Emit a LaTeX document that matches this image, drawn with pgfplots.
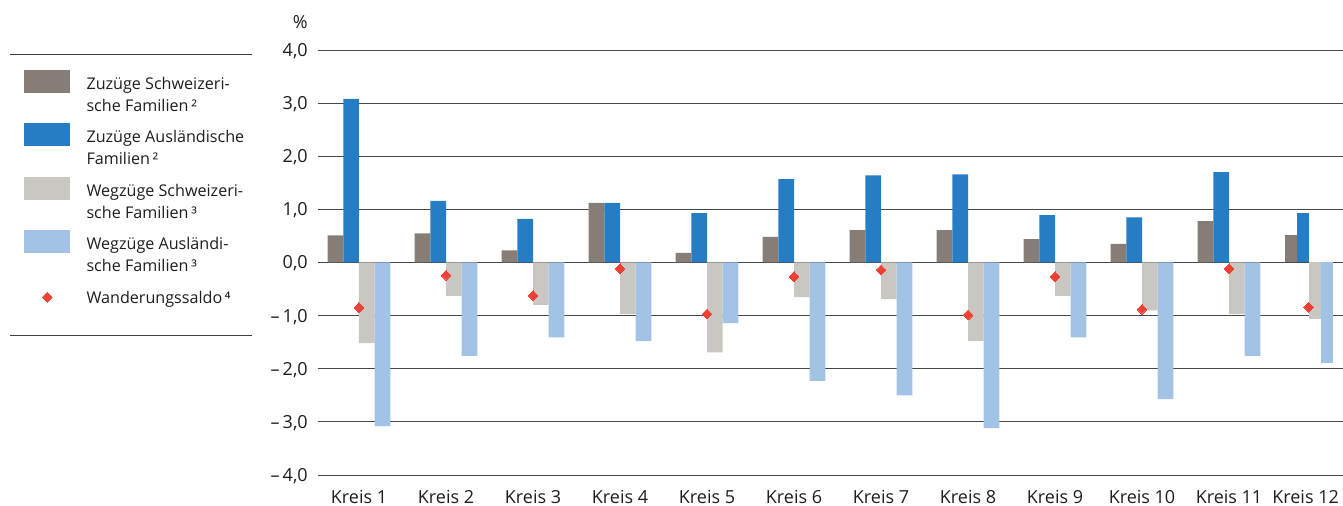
\documentclass[border=0pt]{standalone}
\usepackage{pgfplots}
\pgfplotsset{compat=1.18}
\usepackage{fontspec}
\setmainfont{Open Sans}
\definecolor{c1}{HTML}{877D77}
\definecolor{c2}{HTML}{267DC4}
\definecolor{c3}{HTML}{CAC7C2}
\definecolor{c4}{HTML}{A3C3E6}
\definecolor{cr}{HTML}{EE4035}
\definecolor{tx}{HTML}{1E1E1E}
\newcommand{\fs}{\fontsize{13.5pt}{16.5pt}\selectfont}
\newcommand{\fl}{\fontsize{12.1pt}{16.5pt}\selectfont}
\begin{document}
\fs
\begin{tikzpicture}
\begin{axis}[
  scale only axis, width=768.75pt, height=318.75pt,
  xmin=-0.4713, xmax=11.31, ymin=-4, ymax=4,
  axis line style={draw=none},
  ytick={-4,...,4},
  yticklabels={{–\,4,0},{–\,3,0},{–\,2,0},{–\,1,0},{0,0},{1,0},{2,0},{3,0},{4,0}},
  xtick={0,1,2,3,4,5,6,7,8,9,10,10.88},
  xticklabels={Kreis 1,Kreis 2,Kreis 3,Kreis 4,Kreis 5,Kreis 6,Kreis 7,Kreis 8,Kreis 9,Kreis 10,Kreis 11,Kreis 12},
  major tick length=0pt,
  ymajorgrids, major grid style={black!72, line width=0.7pt},
  tick label style={font=\fs, text=tx},
  xticklabel style={anchor=base, inner sep=0pt, yshift=-21.3pt},
  yticklabel style={anchor=base east, inner sep=0pt, xshift=-7.5pt, yshift=-4.8pt},
  legend cell align=left,
  legend style={at={(-0.2868,0.9529)}, anchor=north west, draw=none, fill=none,
    inner sep=0pt, outer sep=0pt, row sep=4.35pt, column sep=12pt,
    font=\fl, text=tx,
    nodes={inner sep=0pt, text depth=, text height=, align=left}},
]
% Kreis 1-11
\addplot[ybar, bar width=0.18, bar shift=-0.27, fill=c1, draw=none,
  legend image code/.code={\fill[c1] (0pt,2.0pt) rectangle (34.5pt,19.25pt);}]
  coordinates {(0,0.51) (1,0.55) (2,0.23) (3,1.12) (4,0.18) (5,0.48) (6,0.61) (7,0.61) (8,0.44) (9,0.35) (10,0.78)};
\addlegendentry{\strut Zuzüge Schweizeri-\\\strut sche Familien\,²}
\addplot[ybar, bar width=0.18, bar shift=-0.09, fill=c2, draw=none,
  legend image code/.code={\fill[c2] (0pt,2.0pt) rectangle (34.5pt,19.25pt);}]
  coordinates {(0,3.08) (1,1.16) (2,0.82) (3,1.12) (4,0.93) (5,1.57) (6,1.64) (7,1.66) (8,0.89) (9,0.85) (10,1.70)};
\addlegendentry{\strut Zuzüge Ausländische\\\strut Familien\,²}
\addplot[ybar, bar width=0.18, bar shift=0.09, fill=c3, draw=none,
  legend image code/.code={\fill[c3] (0pt,2.0pt) rectangle (34.5pt,19.25pt);}]
  coordinates {(0,-1.52) (1,-0.63) (2,-0.80) (3,-0.97) (4,-1.69) (5,-0.65) (6,-0.69) (7,-1.48) (8,-0.63) (9,-0.90) (10,-0.97)};
\addlegendentry{\strut Wegzüge Schweizeri-\\\strut sche Familien\,³}
\addplot[ybar, bar width=0.18, bar shift=0.27, fill=c4, draw=none,
  legend image code/.code={\fill[c4] (0pt,2.0pt) rectangle (34.5pt,19.25pt);}]
  coordinates {(0,-3.08) (1,-1.76) (2,-1.41) (3,-1.48) (4,-1.14) (5,-2.23) (6,-2.50) (7,-3.12) (8,-1.41) (9,-2.57) (10,-1.76)};
\addlegendentry{\strut Wegzüge Ausländi-\\\strut sche Familien\,³}
% Kreis 12 (narrower group at the right edge)
\addplot[forget plot, ybar, bar width=0.138, bar shift=-0.207, fill=c1, draw=none] coordinates {(10.914,0.51)};
\addplot[forget plot, ybar, bar width=0.138, bar shift=-0.069, fill=c2, draw=none] coordinates {(10.914,0.93)};
\addplot[forget plot, ybar, bar width=0.138, bar shift=0.069, fill=c3, draw=none] coordinates {(10.914,-1.07)};
\addplot[forget plot, ybar, bar width=0.138, bar shift=0.207, fill=c4, draw=none] coordinates {(10.914,-1.90)};
% Wanderungssaldo
\addplot[only marks, mark=square*, mark size=2.6pt, color=cr,
  mark options={rotate=45, fill=cr, draw=cr, line width=0pt},
  legend image code/.code={\path (0pt,0pt) (34.5pt,19.25pt);
    \fill[cr] (17.25pt,9.3pt) +(0pt,3.7pt) -- +(3.7pt,0pt) -- +(0pt,-3.7pt) -- +(-3.7pt,0pt) -- cycle;}]
  coordinates {(0,-0.85) (1,-0.24) (2,-0.62) (3,-0.12) (4,-0.97) (5,-0.27) (6,-0.14) (7,-0.99) (8,-0.27) (9,-0.88) (10,-0.12) (10.914,-0.84)};
\addlegendentry{\strut Wanderungssaldo\,⁴\\\strut}
\end{axis}
\draw[black!75, line width=0.75pt] ([shift={(-231pt,-3.75pt)}]current axis.north west) -- ([shift={(-49.5pt,-3.75pt)}]current axis.north west);
\draw[black!75, line width=0.75pt] ([shift={(-231pt,-214.5pt)}]current axis.north west) -- ([shift={(-49.5pt,-214.5pt)}]current axis.north west);
\node[anchor=base east, inner sep=0pt, font=\fs, text=tx] at ([shift={(-7.5pt,15.75pt)}]current axis.north west) {\%};
\pgfresetboundingbox
\path ([shift={(-238.5pt,-23.25pt)}]current axis.south west) rectangle ([shift={(0pt,37.5pt)}]current axis.north east);
\end{tikzpicture}
\end{document}
